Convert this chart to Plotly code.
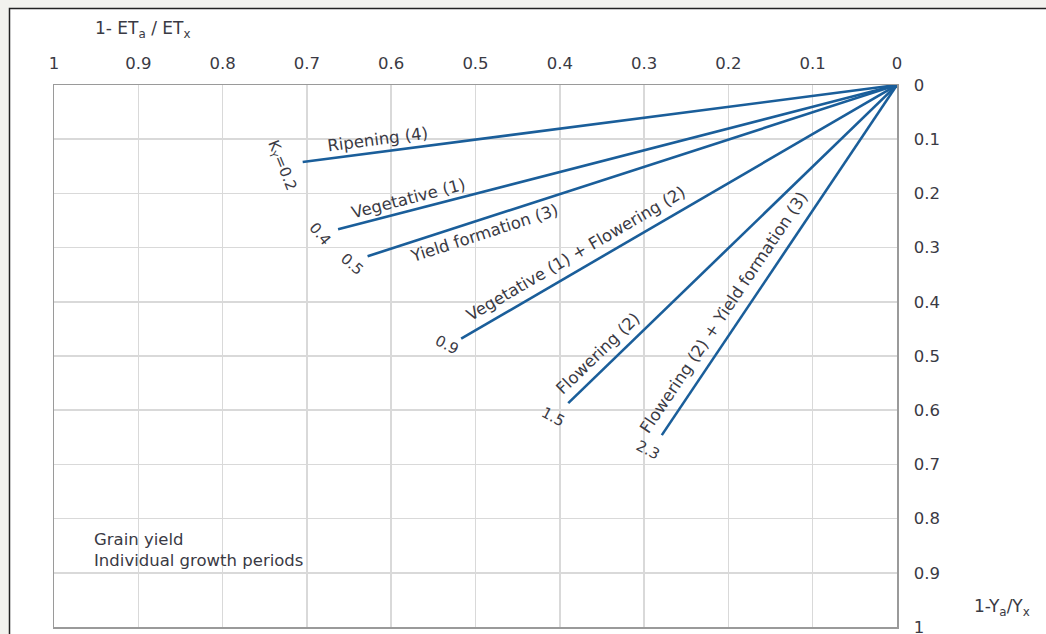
import math
import plotly.graph_objects as go

# ---- data ----
stages = ["Ripening (4)", "Vegetative (1)", "Yield formation (3)",
          "Vegetative (1) + Flowering (2)", "Flowering (2)",
          "Flowering (2) + Yield formation (3)"]
ky_values = [0.2, 0.4, 0.5, 0.9, 1.5, 2.3]
et_deficit_end = [0.705, 0.663, 0.628, 0.517, 0.390, 0.279]     # 1 - ETa/ETx at line end
yield_deficit_end = [0.142, 0.266, 0.316, 0.468, 0.587, 0.646]  # 1 - Ya/Yx at line end
tick_values = [1, 0.9, 0.8, 0.7, 0.6, 0.5, 0.4, 0.3, 0.2, 0.1, 0]
tick_labels = ["1", "0.9", "0.8", "0.7", "0.6", "0.5", "0.4", "0.3", "0.2", "0.1", "0"]

# ---- styling ----
W, H = 1046, 634
ML, MR, MT, MB = 54, 149, 85, 7
PW, PH = W - ML - MR, H - MT - MB
LINE_COLOR = "#1a5e9a"
TEXT_COLOR = "#3a3a44"
FONT = "DejaVu Sans"
# label placement: fraction along line, perpendicular offset (px, + = above)
label_frac = [0.871, 0.868, 0.789, 0.718, 0.878, 0.677]
label_off = [13, 12.5, -14, 15.5, 14.5, 16.5]
# Ky label offsets from line end (px right, px down) and angles
ky_dx = [-21, -18, -16, -14, -15, -14]
ky_dy = [4, 5, 8, 6, 14, 15]
ky_angle = [68, 50, 42, 27, 28, 28]

fig = go.Figure()
for name, xe, ye in zip(stages, et_deficit_end, yield_deficit_end):
    fig.add_trace(go.Scatter(x=[0, xe], y=[0, ye], mode="lines", name=name,
                             line=dict(color=LINE_COLOR, width=2.6),
                             showlegend=False, hoverinfo="skip"))

annotations = []
for i, (name, ky, xe, ye) in enumerate(zip(stages, ky_values, et_deficit_end, yield_deficit_end)):
    theta = math.atan2(ye * PH, xe * PW)
    f = label_frac[i]
    d = label_off[i]
    annotations.append(dict(
        x=f * xe, y=f * ye, xref="x", yref="y", text=name, showarrow=False,
        textangle=-math.degrees(theta), xanchor="center", yanchor="middle",
        xshift=-d * math.sin(theta), yshift=d * math.cos(theta),
        font=dict(family=FONT, size=16.5, color=TEXT_COLOR)))
    ktxt = ("K<sub>Y</sub>=" if i == 0 else "") + f"{ky:g}"
    annotations.append(dict(
        x=xe, y=ye, xref="x", yref="y", text=ktxt, showarrow=False,
        textangle=ky_angle[i], xanchor="center", yanchor="middle",
        xshift=ky_dx[i], yshift=-ky_dy[i],
        font=dict(family=FONT, size=15, color=TEXT_COLOR)))

annotations += [
    dict(x=(93 - ML) / PW, y=1 + (MT - 30) / PH, xref="paper", yref="paper",
         text="1- ET<sub>a</sub> / ET<sub>x</sub>", showarrow=False,
         xanchor="left", yanchor="middle",
         font=dict(family=FONT, size=17, color=TEXT_COLOR)),
    dict(x=(972 - ML) / PW, y=(PH - (607 - MT)) / PH, xref="paper", yref="paper",
         text="1-Y<sub>a</sub>/Y<sub>x</sub>", showarrow=False,
         xanchor="left", yanchor="middle",
         font=dict(family=FONT, size=17, color=TEXT_COLOR)),
    dict(x=(92 - ML) / PW, y=(PH - (528 - MT)) / PH, xref="paper", yref="paper",
         text="Grain yield<br>Individual growth periods", showarrow=False,
         xanchor="left", yanchor="top", align="left",
         font=dict(family=FONT, size=16.5, color=TEXT_COLOR)),
]

axis_common = dict(
    range=[1, 0], tickvals=tick_values, ticktext=tick_labels,
    showgrid=True, gridcolor="#d9d9d9", gridwidth=1.5, zeroline=False,
    showline=True, linecolor="#9a9a9a", linewidth=1.5, mirror=True,
    ticks="", tickfont=dict(family=FONT, size=16.5, color=TEXT_COLOR),
    ticklabeloverflow="allow", automargin=False, fixedrange=True,
)

fig.update_layout(
    width=W, height=H,
    margin=dict(l=ML, r=MR, t=MT, b=MB, pad=0, autoexpand=False),
    paper_bgcolor="#f2f2ee", plot_bgcolor="white",
    xaxis=dict(side="top", ticklabelstandoff=8, **axis_common),
    yaxis=dict(side="right", ticklabelstandoff=12, **axis_common),
    annotations=annotations,
    shapes=[dict(type="rect", xref="paper", yref="paper", layer="below",
                 x0=(9.5 - ML) / PW, x1=1.3, y0=-0.2, y1=1 + (MT - 8.5) / PH,
                 fillcolor="white", line=dict(color="#222222", width=1.5))],
    showlegend=False,
)

fig.write_html(
    "out.html",
    config={"displayModeBar": False, "staticPlot": True},
    post_script="document.body.style.margin='0';document.body.style.overflow='hidden';"
                "document.body.style.background='#f2f2ee';",
)
